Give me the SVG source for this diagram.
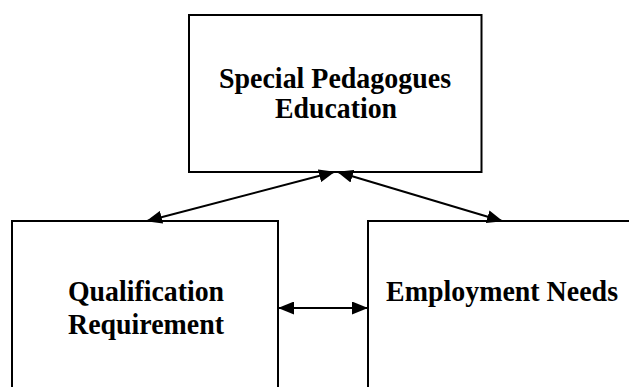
<svg xmlns="http://www.w3.org/2000/svg" width="629" height="387" viewBox="0 0 629 387">
  <style>
    .box { fill: #ffffff; stroke: #000000; stroke-width: 2; }
    .label { font-family: "Liberation Serif", "Times New Roman", serif; font-weight: bold; font-size: 30px; fill: #000000; }
    .link { stroke: #000000; stroke-width: 2; fill: none; marker-start: url(#head); marker-end: url(#head); }
  </style>
  <defs>
    <marker id="head" markerUnits="userSpaceOnUse" markerWidth="16" markerHeight="13" refX="15" refY="6.5" orient="auto-start-reverse" viewBox="0 0 16 13">
      <path d="M0,0 L16,6.5 L0,13 z" fill="#000000"/>
    </marker>
  </defs>
  <rect width="629" height="387" fill="#ffffff"/>

  <g id="node-education">
    <rect class="box" x="189" y="15" width="292.5" height="157"/>
    <text class="label" x="335" y="88" text-anchor="middle" textLength="232" lengthAdjust="spacingAndGlyphs">Special Pedagogues</text>
    <text class="label" x="336" y="118" text-anchor="middle" textLength="122" lengthAdjust="spacingAndGlyphs">Education</text>
  </g>

  <g id="node-qualification">
    <rect class="box" x="12" y="221" width="266" height="200"/>
    <text class="label" x="146" y="301" text-anchor="middle" textLength="156" lengthAdjust="spacingAndGlyphs">Qualification</text>
    <text class="label" x="146" y="334" text-anchor="middle" textLength="156" lengthAdjust="spacingAndGlyphs">Requirement</text>
  </g>

  <g id="node-employment">
    <rect class="box" x="368" y="221" width="300" height="200"/>
    <text class="label" x="386" y="301" textLength="232" lengthAdjust="spacingAndGlyphs">Employment Needs</text>
  </g>

  <g id="connectors">
    <line class="link" x1="147" y1="221" x2="334" y2="172"/>
    <line class="link" x1="338" y1="172" x2="502" y2="221"/>
    <line class="link" x1="279" y1="308" x2="367" y2="308"/>
  </g>
</svg>
